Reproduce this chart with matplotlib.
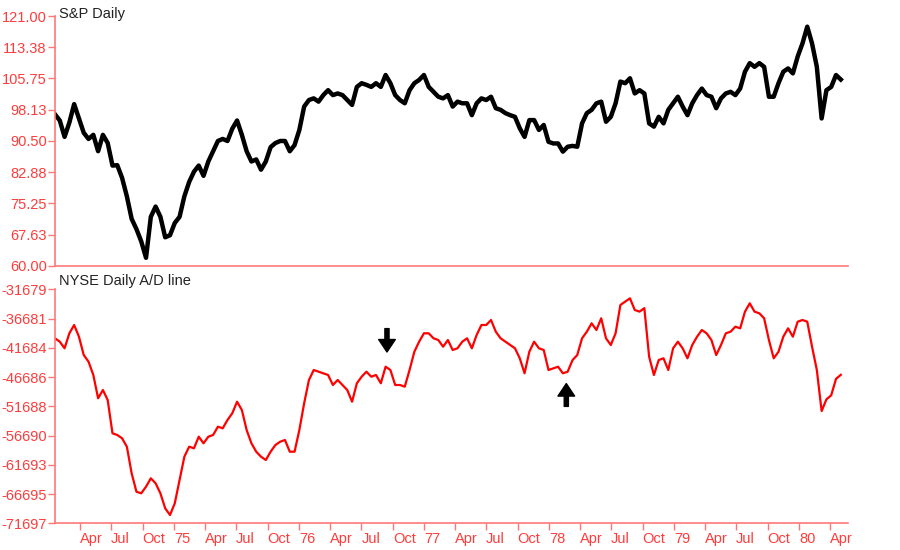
import matplotlib
matplotlib.use("Agg")
import matplotlib.pyplot as plt
import pandas as pd

# ---- data (one sample every 14 days from 1974-01-18) ----
start_date = "1974-01-18"
step_days = 14

sp_daily = [
    97, 95.5, 91.5, 95, 99.5, 96, 92.5, 91, 92, 88,
    92, 90, 84.5, 84.6, 81.5, 77, 71.5, 69, 66, 62,
    72, 74.5, 72, 67, 67.5, 70.5, 72, 77, 80.5, 83,
    84.5, 82, 85.5, 88, 90.5, 91, 90.5, 93.5, 95.5, 92,
    88, 85.5, 86, 83.5, 85.5, 89, 90, 90.5, 90.5, 88,
    89.5, 93.2, 98.9, 100.5, 100.9, 100.1, 101.7, 102.9, 101.7, 102.1,
    101.7, 100.5, 99.3, 103.7, 104.6, 104.2, 103.7, 104.6, 103.7, 106.6,
    104.6, 101.7, 100.5, 99.7, 102.9, 104.6, 105.4, 106.6, 103.7, 102.5,
    101.3, 100.9, 101.7, 98.9, 100.1, 99.7, 99.7, 96.8, 99.7, 100.9,
    100.5, 101.3, 98.5, 98.1, 97.3, 96.8, 96.4, 93.6, 91.5, 95.6,
    95.6, 93.2, 94.4, 90.3, 89.9, 89.9, 87.9, 89.1, 89.3, 89.1,
    94.8, 97.3, 98.1, 99.7, 100.1, 95.2, 96.4, 99.7, 105.0, 104.6,
    105.8, 102.1, 102.9, 102.1, 94.8, 94.0, 96.4, 94.8, 98.1, 99.7,
    101.3, 98.9, 96.8, 99.7, 101.7, 103.3, 101.7, 101.3, 98.5, 100.9,
    102.1, 102.5, 101.7, 103.3, 107.4, 109.5, 108.6, 109.5, 108.6, 101.3,
    101.3, 104.6, 107.4, 108.2, 107.0, 111.1, 114.3, 118.4, 114.3, 108.6,
    96.0, 102.9, 103.7, 106.6, 105.5,
]

nyse_ad = [
    -40058, -40639, -41768, -39203, -37784, -39784, -42914, -44059, -46334, -50318,
    -48899, -50609, -56303, -56593, -57158, -58594, -63143, -66289, -66563, -65434,
    -63998, -64853, -66563, -69128, -70274, -68273, -64289, -60304, -58594, -58868,
    -56884, -58013, -56884, -56593, -55174, -55448, -54029, -52883, -50899, -52319,
    -55739, -58013, -59449, -60304, -60869, -59449, -58304, -57739, -57449, -59449,
    -59449, -55739, -51173, -47189, -45479, -45769, -46043, -46334, -48044, -47189,
    -48044, -48899, -50899, -47753, -46624, -45769, -46624, -46334, -47753, -44914,
    -45479, -48044, -48044, -48334, -45479, -42349, -40639, -39203, -39203, -40058,
    -40349, -41494, -40349, -42059, -41768, -40639, -40058, -41768, -39494, -37784,
    -37784, -36929, -38929, -40058, -40639, -41204, -41768, -43478, -46043, -42349,
    -40639, -41768, -42059, -45479, -45188, -44914, -46043, -45769, -43800, -42914,
    -40058, -38929, -37493, -38639, -36638, -40058, -41204, -39203, -34364, -33799,
    -33218, -35219, -35500, -34900, -43204, -46334, -43769, -43478, -45479, -41768,
    -40639, -41768, -43478, -41204, -39784, -38639, -39203, -40349, -42914, -41204,
    -39203, -38929, -38074, -38354, -35509, -34073, -35509, -35783, -36638, -40349,
    -43478, -42349, -39784, -38354, -39784, -37219, -36929, -37219, -41494, -45479,
    -52500, -50500, -49800, -47000, -46300,
]

sp_ticks = [60.00, 67.63, 75.25, 82.88, 90.50, 98.13, 105.75, 113.38, 121.00]
ad_ticks = [-71697, -66695, -61693, -56690, -51688, -46686, -41684, -36681, -31679]

arrow_down_date = "1976-09-14"
arrow_down_range = (-38400, -42400)
arrow_up_date = "1978-02-20"
arrow_up_range = (-51700, -47800)

x_start = "1974-01-18"
x_end = "1980-05-23"

# ---- styling ----
plt.rcParams['font.family'] = ['Liberation Sans', 'DejaVu Sans']
TXT_RED = '#ff3c3c'
AX_RED = '#ff7878'

dates = pd.date_range(start_date, periods=len(sp_daily), freq=f"{step_days}D")
dates_ad = pd.date_range(start_date, periods=len(nyse_ad), freq=f"{step_days}D")

fig = plt.figure(figsize=(9, 5.5), dpi=100)
fig.patch.set_facecolor('white')
ax1 = fig.add_axes([0.0611, 0.5164, 0.8811, 0.4545])
ax2 = fig.add_axes([0.0611, 0.0485, 0.8811, 0.4255])

ax1.plot(dates, sp_daily, color='black', lw=3.2)
ax2.plot(dates_ad, nyse_ad, color='#ff0000', lw=1.6)

xl = (pd.Timestamp(x_start), pd.Timestamp(x_end))
for ax in (ax1, ax2):
    ax.set_xlim(xl)
    for s in ('top', 'right'):
        ax.spines[s].set_visible(False)
    for s in ('left', 'bottom'):
        ax.spines[s].set_color(AX_RED)
        ax.spines[s].set_linewidth(1.2)
    ax.tick_params(axis='y', colors=AX_RED, labelcolor=TXT_RED, labelsize=10.5,
                   length=5, width=1, pad=1)
    ax.set_facecolor('white')

ax1.set_ylim(sp_ticks[0], sp_ticks[-1])
ax1.set_yticks(sp_ticks)
ax1.set_yticklabels([f"{v:.2f}" for v in sp_ticks])
ax1.set_xticks([])

ax2.set_ylim(ad_ticks[0], ad_ticks[-1])
ax2.set_yticks(ad_ticks)
ax2.set_yticklabels([str(v) for v in ad_ticks])

# quarterly x ticks
qticks = pd.date_range("1974-04-01", "1980-04-01", freq="QS")
labels = [d.strftime("%y") if d.month == 1 else d.strftime("%b") for d in qticks]
ax2.set_xticks(qticks)
ax2.set_xticklabels(labels, ha='left')
ax2.tick_params(axis='x', colors=AX_RED, labelcolor=TXT_RED, labelsize=10.5,
                length=5, width=1, pad=1)

# titles
fig.text(0.066, 0.987, "S&P Daily", fontsize=10.5, color='#222222', va='top', ha='left')
fig.text(0.066, 0.502, "NYSE Daily A/D line", fontsize=10.5, color='#222222', va='top', ha='left')

# arrows
ax2.annotate('', xy=(pd.Timestamp(arrow_down_date), arrow_down_range[1]),
             xytext=(pd.Timestamp(arrow_down_date), arrow_down_range[0]),
             arrowprops=dict(facecolor='black', edgecolor='black', width=3,
                             headwidth=12, headlength=9, shrink=0))
ax2.annotate('', xy=(pd.Timestamp(arrow_up_date), arrow_up_range[1]),
             xytext=(pd.Timestamp(arrow_up_date), arrow_up_range[0]),
             arrowprops=dict(facecolor='black', edgecolor='black', width=3,
                             headwidth=12, headlength=9, shrink=0))

fig.savefig("out.png", dpi=100, facecolor='white')
